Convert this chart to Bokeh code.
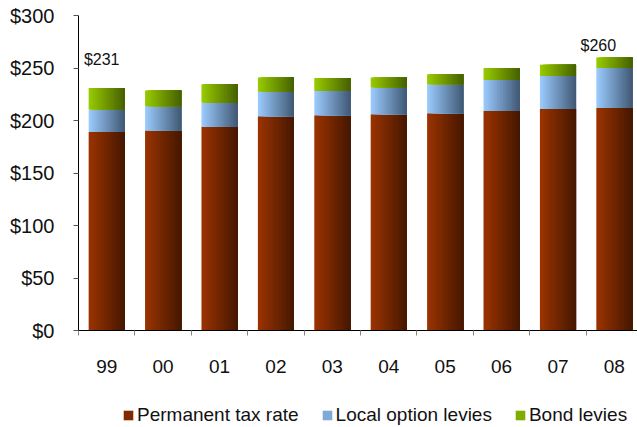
import numpy as np
from bokeh.plotting import figure
from bokeh.layouts import column
from bokeh.models import Range1d, Legend, LegendItem, NumeralTickFormatter, FixedTicker
from bokeh.embed import file_html
from bokeh.resources import INLINE
from bokeh.core.properties import value

years = ["99", "00", "01", "02", "03", "04", "05", "06", "07", "08"]
permanent = [189, 190.5, 194, 204, 205, 206, 207, 209, 211, 212]
local_option = [21.5, 23, 23, 23.5, 23, 25.5, 27.5, 29.5, 31.5, 38]
bond = [20.5, 15, 17.5, 13.5, 12.5, 9.5, 9.5, 11.5, 10.5, 10]
series_names = ["Permanent tax rate", "Local option levies", "Bond levies"]
y_ticks = [0, 50, 100, 150, 200, 250, 300]

FONT = "Liberation Sans"
x = np.arange(len(years), dtype=float)
series = [np.array(permanent), np.array(local_option), np.array(bond)]
totals = series[0] + series[1] + series[2]

p = figure(width=637, height=395, output_backend="svg", toolbar_location=None,
           x_range=Range1d(-0.5, 9.41), y_range=Range1d(0, 300),
           min_border_left=78, min_border_right=0, min_border_top=15, min_border_bottom=65)
p.outline_line_color = None
p.xgrid.grid_line_color = None
p.ygrid.grid_line_color = None
p.background_fill_color = "white"

# gradient colour ramps (left -> right)
ramps = [((0x9C, 0x34, 0x00), (0x45, 0x17, 0x00)),
         ((0x9C, 0xCC, 0xFF), (0x40, 0x58, 0x74)),
         ((0x99, 0xCC, 0x00), (0x45, 0x60, 0x00))]

def hexcol(c):
    return "#%02x%02x%02x" % tuple(int(round(v)) for v in c)

bw = 0.64
N = 24
sw = bw / N
bottom = np.zeros(len(years))
for s, (vals, (c0, c1)) in enumerate(zip(series, ramps)):
    top = bottom + vals
    for k in range(N):
        t = (k + 0.5) / N
        col = hexcol([c0[i] + (c1[i] - c0[i]) * t for i in range(3)])
        left = -bw / 2 + k * sw
        wid = bw - k * sw
        p.vbar(x=x + left + wid / 2, width=wid,
               bottom=bottom, top=top, fill_color=col, line_color=None)
    bottom = top

# total labels on first and last bars
first, last = 0, len(years) - 1
p.text(x=[x[first]], y=[totals[first]], text=["$%d" % round(totals[first])],
       text_font=value(FONT), text_font_size="16px", text_color="#111111",
       text_align="center", text_baseline="alphabetic", x_offset=-5, y_offset=-28)
p.text(x=[x[last]], y=[totals[last]], text=["$%d" % round(totals[last])],
       text_font=value(FONT), text_font_size="16px", text_color="#111111",
       text_align="center", text_baseline="alphabetic", x_offset=-16, y_offset=-12)

# axes
p.yaxis.ticker = FixedTicker(ticks=y_ticks)
p.yaxis.formatter = NumeralTickFormatter(format="$0")
p.yaxis.major_label_text_font = FONT
p.yaxis.major_label_text_font_size = "20px"
p.yaxis.major_label_text_color = "#111111"
p.yaxis.major_tick_in = 0
p.yaxis.major_tick_out = 5
p.yaxis.major_tick_line_color = "#555555"
p.yaxis.minor_tick_line_color = None
p.yaxis.major_label_standoff = 19
p.yaxis.axis_line_color = "black"

p.xaxis.ticker = FixedTicker(ticks=list(x), minor_ticks=list(np.arange(len(years) + 1) - 0.5))
p.xaxis.major_label_overrides = {float(i): y for i, y in zip(x, years)}
p.xaxis.major_label_text_font = FONT
p.xaxis.major_label_text_font_size = "19px"
p.xaxis.major_label_text_color = "#111111"
p.xaxis.major_tick_line_color = None
p.xaxis.major_tick_in = 0
p.xaxis.major_tick_out = 0
p.xaxis.minor_tick_in = 0
p.xaxis.minor_tick_out = 5
p.xaxis.minor_tick_line_color = "#888888"
p.xaxis.major_label_standoff = 24
p.xaxis.axis_line_color = "black"

# legend strip as a second figure below the chart
lg = figure(width=637, height=32, output_backend="svg", toolbar_location=None,
            x_range=Range1d(-0.5, 9.41), y_range=Range1d(1000, 1001),
            min_border_left=0, min_border_right=0, min_border_top=0, min_border_bottom=0)
lg.axis.visible = False
lg.xgrid.grid_line_color = None
lg.ygrid.grid_line_color = None
lg.outline_line_color = None
items = []
bottom = np.zeros(len(years))
for s, (vals, (c0, c1)) in enumerate(zip(series, ramps)):
    top = bottom + vals
    col = hexcol([c0[i] + (c1[i] - c0[i]) * 0.3 for i in range(3)])
    r = lg.vbar(x=x, width=bw, bottom=bottom, top=top, fill_color=col, line_color=None)
    items.append(LegendItem(label=series_names[s], renderers=[r]))
    bottom = top

legend = Legend(items=items, orientation="horizontal", location=(44, 1),
                label_text_font=FONT, label_text_font_size="19px", label_text_color="#111111",
                glyph_width=12, glyph_height=12, label_standoff=3, spacing=22,
                padding=0, margin=0, border_line_color=None, background_fill_alpha=0,
                label_height=18)
lg.add_layout(legend, "center")

open("out.html", "w").write(file_html(column(p, lg, spacing=0), INLINE))
